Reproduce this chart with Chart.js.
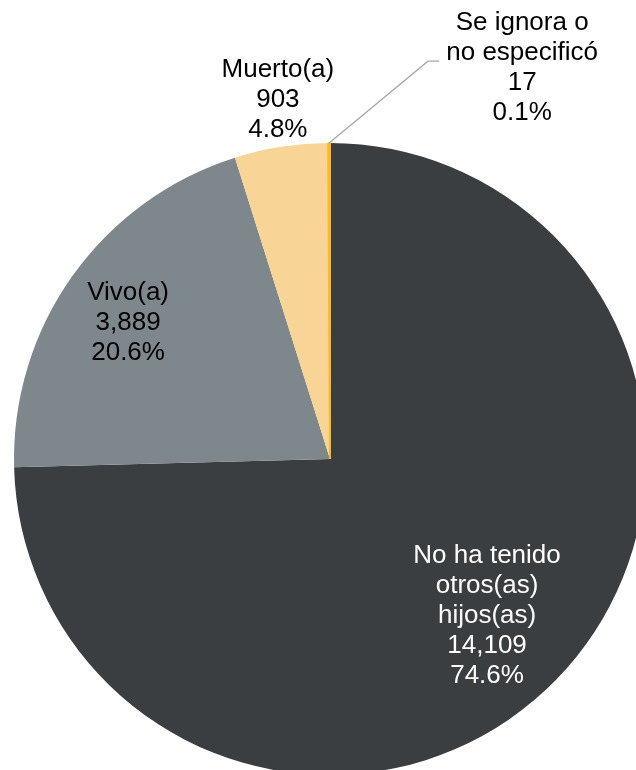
<!DOCTYPE html>
<html>
<head>
<meta charset="utf-8">
<script src="https://cdn.jsdelivr.net/npm/chart.js@4"></script>
<style>
  html, body { margin: 0; padding: 0; background: #ffffff; overflow: hidden; width: 636px; height: 770px; }
  #wrap { position: absolute; left: 0; top: 0; }
</style>
</head>
<body>
<div id="wrap"><canvas id="c" width="660" height="790"></canvas></div>
<script>
// ---- data ----
const categoryLines = [
  ["No ha tenido", "otros(as)", "hijos(as)"],
  ["Vivo(a)"],
  ["Muerto(a)"],
  ["Se ignora o", "no especificó"]
];
const categories = categoryLines.map(l => l.join(" "));
const values = [14109, 3889, 903, 17];
const percentLabels = ["74.6%", "20.6%", "4.8%", "0.1%"];
const colors = ["#3b3e41", "#7e878c", "#f8d597", "#fbba22"];
const textColors = ["#ffffff", "#000000", "#000000", "#000000"];

// label layout (relative to pie centre, in units of radius)
const labelPos = [
  { x: 0.497, y: 0.497 },
  { x: -0.639, y: -0.430 },
  { x: -0.165, y: -1.136 },
  { x: 0.608, y: -1.237 }
];
const leader = { index: 3, elbow: { x: 0.310, y: -1.259 }, end: { x: 0.345, y: -1.259 } };

const labelPlugin = {
  id: 'pieLabels',
  afterDatasetsDraw(chart) {
    const ctx = chart.ctx;
    const meta = chart.getDatasetMeta(0);
    const arc0 = meta.data[0];
    const cx = arc0.x, cy = arc0.y, r = arc0.outerRadius;
    ctx.save();
    // leader line
    const la = meta.data[leader.index];
    const mid = (la.startAngle + la.endAngle) / 2;
    ctx.strokeStyle = '#a6a6a6';
    ctx.lineWidth = 1.3;
    ctx.beginPath();
    ctx.moveTo(cx + Math.cos(mid) * r, cy + Math.sin(mid) * r);
    ctx.lineTo(cx + leader.elbow.x * r, cy + leader.elbow.y * r);
    ctx.lineTo(cx + leader.end.x * r, cy + leader.end.y * r);
    ctx.stroke();
    // texts
    ctx.font = '26px "Liberation Sans", Arial, sans-serif';
    ctx.textAlign = 'center';
    ctx.textBaseline = 'middle';
    const lh = 30;
    values.forEach((v, i) => {
      const lines = categoryLines[i].concat([v.toLocaleString('en-US'), percentLabels[i]]);
      const x = cx + labelPos[i].x * r;
      const yc = cy + labelPos[i].y * r;
      const y0 = yc - (lines.length - 1) * lh / 2;
      ctx.fillStyle = textColors[i];
      lines.forEach((t, j) => ctx.fillText(t, x, y0 + j * lh));
    });
    ctx.restore();
  }
};

new Chart(document.getElementById('c'), {
  type: 'pie',
  data: {
    labels: categories,
    datasets: [{
      data: values,
      backgroundColor: colors,
      borderColor: colors,
      borderWidth: [0, 0, 0, 2],
      hoverBorderWidth: [0, 0, 0, 2],
      hoverOffset: 0
    }]
  },
  options: {
    responsive: false,
    animation: false,
    devicePixelRatio: 1,
    layout: { padding: { left: 13, top: 142, right: 13, bottom: 14 } },
    plugins: {
      legend: { display: false },
      tooltip: { enabled: false }
    }
  },
  plugins: [labelPlugin]
});
</script>
</body>
</html>
